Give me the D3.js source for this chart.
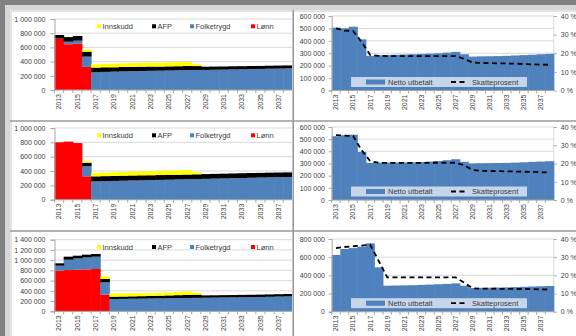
<!DOCTYPE html>
<html>
<head>
<meta charset="utf-8">
<script src="https://cdn.jsdelivr.net/npm/d3@7"></script>
<style>
  body { margin: 0; background: #fff; }
  text { font-family: "Liberation Sans", Arial, sans-serif; fill: #404040; }
</style>
</head>
<body>
<svg id="chart" width="576" height="336"></svg>
<script>
// categories
const years = [2013, 2014, 2015, 2016, 2017, 2018, 2019, 2020, 2021, 2022, 2023, 2024, 2025,
               2026, 2027, 2028, 2029, 2030, 2031, 2032, 2033, 2034, 2035, 2036, 2037, 2038];
const tickYears = [2013, 2015, 2017, 2019, 2021, 2023, 2025, 2027, 2029, 2031, 2033, 2035, 2037];

// income parts, thousand NOK (three scenarios, top to bottom)
const lonn1 = [725, 645, 655, 325, 0, 0, 0, 0, 0, 0, 0, 0, 0, 0, 0, 0, 0, 0, 0, 0, 0, 0, 0, 0, 0, 0];
const folk1 = [0, 35, 40, 145, 250, 255, 258, 262, 265, 268, 270, 272, 275, 277, 280, 282, 283, 285, 287, 290, 292, 295, 297, 300, 302, 305];
const afp1  = [50, 65, 65, 70, 65, 65, 62, 62, 60, 60, 60, 58, 58, 58, 58, 55, 45, 45, 44, 44, 43, 43, 42, 42, 42, 41];
const inn1  = [0, 0, 0, 30, 46, 48, 50, 52, 53, 54, 55, 56, 57, 58, 56, 25, 0, 0, 0, 0, 0, 0, 0, 0, 0, 0];

const lonn2 = [800, 810, 790, 326, 0, 0, 0, 0, 0, 0, 0, 0, 0, 0, 0, 0, 0, 0, 0, 0, 0, 0, 0, 0, 0, 0];
const folk2 = [0, 0, 0, 140, 256, 259, 262, 265, 268, 270, 273, 276, 279, 282, 285, 288, 291, 294, 297, 300, 303, 306, 309, 312, 314, 316];
const afp2  = [0, 0, 0, 50, 70, 70, 70, 70, 70, 70, 68, 68, 68, 66, 66, 66, 66, 66, 66, 66, 66, 66, 65, 65, 65, 65];
const inn2  = [0, 0, 0, 20, 46, 48, 50, 52, 54, 55, 55, 57, 58, 59, 60, 30, 0, 0, 0, 0, 0, 0, 0, 0, 0, 0];

const lonn3 = [794, 807, 814, 820, 827, 326, 0, 0, 0, 0, 0, 0, 0, 0, 0, 0, 0, 0, 0, 0, 0, 0, 0, 0, 0, 0];
const folk3 = [98, 202, 221, 235, 241, 240, 241, 243, 246, 248, 251, 253, 256, 258, 261, 263, 265, 267, 270, 272, 275, 277, 280, 284, 288, 292];
const afp3  = [46, 59, 52, 52, 52, 66, 45, 46, 47, 48, 50, 52, 55, 58, 62, 62, 46, 46, 46, 46, 46, 46, 46, 46, 46, 47];
const inn3  = [0, 0, 0, 0, 0, 52, 66, 60, 58, 55, 52, 55, 58, 62, 65, 40, 0, 0, 0, 0, 0, 0, 0, 0, 0, 0];

// net paid (thousand NOK) and tax rate (%)
const net1 = [506, 501, 514, 412, 279, 284, 286, 288, 290, 292, 295, 297, 300, 305, 311, 292, 273, 275, 276, 277, 279, 282, 285, 288, 292, 295];
const tax1 = [33.4, 32.2, 32.0, 26.0, 19.1, 18.6, 18.5, 18.5, 18.5, 18.5, 18.5, 18.5, 18.5, 18.5, 18.5, 17.0, 15.0, 14.8, 14.7, 14.6, 14.5, 14.4, 14.2, 14.0, 13.9, 13.8];
const net2 = [524, 532, 537, 395, 305, 307, 308, 308, 309, 310, 312, 316, 320, 327, 335, 314, 300, 302, 303, 304, 305, 307, 310, 313, 316, 319];
const tax2 = [35.5, 35.3, 35.1, 27.3, 21.3, 20.4, 20.3, 20.3, 20.3, 20.3, 20.3, 20.4, 20.4, 20.4, 20.4, 19.1, 16.4, 16.0, 15.9, 15.8, 15.7, 15.6, 15.5, 15.4, 15.2, 15.1];
const net3 = [624, 690, 700, 715, 752, 488, 286, 288, 290, 292, 295, 298, 302, 306, 312, 286, 260, 262, 264, 266, 268, 271, 274, 277, 280, 283];
const tax3 = [35.0, 35.6, 36.0, 36.3, 36.9, 28.0, 18.9, 18.9, 18.9, 18.9, 18.9, 18.9, 18.9, 18.9, 18.9, 16.0, 12.8, 12.7, 12.7, 12.6, 12.6, 12.5, 12.5, 12.4, 12.3, 12.2];

const stackKeys = ["Lønn", "Folketrygd", "AFP", "Innskudd"];
const legendLeft = ["Innskudd", "AFP", "Folketrygd", "Lønn"];
const colors = { "Lønn": "#ff0000", "Folketrygd": "#4f81bd", "AFP": "#000000", "Innskudd": "#ffff00" };

const nb = d3.formatLocale({ decimal: ",", thousands: "\u00a0", grouping: [3], currency: ["", ""] }).format(",");

const svg = d3.select("#chart");
const gridColor = "#d9d9d9", axisColor = "#a6a6a6";

// layout of the three rows
const rows = [
  { top: 19, bottom: 90, max: 1000, rTop: 16, rBottom: 90.5, rMax: 600, rStep: 100 },
  { top: 128, bottom: 199.7, max: 1000, rTop: 127, rBottom: 200, rMax: 600, rStep: 100 },
  { top: 239.7, bottom: 311.3, max: 1400, rTop: 239, rBottom: 311.7, rMax: 800, rStep: 200 }
];
const scen = [
  { lonn: lonn1, folk: folk1, afp: afp1, inn: inn1, net: net1, tax: tax1 },
  { lonn: lonn2, folk: folk2, afp: afp2, inn: inn2, net: net2, tax: tax2 },
  { lonn: lonn3, folk: folk3, afp: afp3, inn: inn3, net: net3, tax: tax3 }
];

svg.append("clipPath").attr("id", "leftclip")
  .append("rect").attr("x", 0).attr("y", 0).attr("width", 292).attr("height", 336);

function xAxisLabels(g, x, bottom) {
  const bw = x.bandwidth();
  g.append("line").attr("x1", x.range()[0]).attr("x2", x.range()[1])
    .attr("y1", bottom).attr("y2", bottom).attr("stroke", axisColor);
  g.selectAll(".xt").data(years).join("line")
    .attr("x1", d => x(d)).attr("x2", d => x(d))
    .attr("y1", bottom).attr("y2", bottom + 3).attr("stroke", axisColor);
  g.selectAll(".xl").data(tickYears).join("text")
    .attr("transform", d => `translate(${x(d) + bw / 2 + 2.4},${bottom + 4}) rotate(-90)`)
    .attr("text-anchor", "end").attr("font-size", 7).text(d => d);
}

function styleAxis(a) {
  a.select(".domain").attr("stroke", axisColor);
  a.selectAll(".tick line").attr("stroke", axisColor);
  a.selectAll(".tick text").attr("font-size", 7).attr("fill", "#404040")
    .attr("font-family", "Liberation Sans, Arial, sans-serif");
}

function drawStack(row, d) {
  const g = svg.append("g").attr("clip-path", "url(#leftclip)");
  const x = d3.scaleBand().domain(years).range([54.5, 292.4]);
  const y = d3.scaleLinear().domain([0, row.max]).range([row.bottom, row.top]);
  const bw = x.bandwidth();
  const ticks = d3.range(0, row.max + 1, 200);

  g.selectAll(".grid").data(ticks).join("line")
    .attr("x1", 54.5).attr("x2", 292.4)
    .attr("y1", v => y(v)).attr("y2", v => y(v)).attr("stroke", gridColor);

  const table = years.map((yr, i) => ({
    year: yr, "Lønn": d.lonn[i], "Folketrygd": d.folk[i], "AFP": d.afp[i], "Innskudd": d.inn[i]
  }));
  const series = d3.stack().keys(stackKeys)(table);
  g.selectAll(".s").data(series).join("g").attr("fill", s => colors[s.key])
    .selectAll("rect").data(s => s).join("rect")
    .attr("x", p => x(p.data.year)).attr("width", bw + 0.5)
    .attr("y", p => y(p[1])).attr("height", p => Math.max(0, y(p[0]) - y(p[1])));

  const ya = svg.append("g").attr("transform", "translate(54.5,0)")
    .call(d3.axisLeft(y).tickValues(ticks).tickFormat(v => nb(v * 1000)).tickSize(4).tickPadding(5));
  styleAxis(ya);
  xAxisLabels(g, x, row.bottom);

  // legend
  const lg = svg.append("g");
  const lx = [97, 152, 190, 251];
  const ly = row.top + 7.5;
  legendLeft.forEach((k, i) => {
    lg.append("rect").attr("x", lx[i]).attr("y", ly - 2.2).attr("width", 4).attr("height", 4).attr("fill", colors[k]);
    lg.append("text").attr("x", lx[i] + 5.5).attr("y", ly + 2.5).attr("font-size", 7.5).text(k);
  });
}

function drawNet(row, d) {
  const g = svg.append("g");
  const x0 = 331.7, x1 = 553.8;
  const x = d3.scaleBand().domain(years).range([x0, x1]);
  const y = d3.scaleLinear().domain([0, row.rMax]).range([row.rBottom, row.rTop]);
  const yp = d3.scaleLinear().domain([0, 40]).range([row.rBottom, row.rTop]);
  const bw = x.bandwidth();
  const ticks = d3.range(0, row.rMax + 1, row.rStep);

  g.selectAll(".grid").data(ticks).join("line")
    .attr("x1", x0).attr("x2", x1)
    .attr("y1", v => y(v)).attr("y2", v => y(v)).attr("stroke", gridColor);
  g.append("line").attr("x1", x1).attr("x2", x1).attr("y1", row.rTop).attr("y2", row.rBottom).attr("stroke", gridColor);

  g.selectAll(".net").data(d.net).join("rect")
    .attr("x", (v, i) => x(years[i])).attr("width", bw + 0.5)
    .attr("y", v => y(v)).attr("height", v => row.rBottom - y(v))
    .attr("fill", "#4f81bd");

  g.append("path").datum(d.tax)
    .attr("d", d3.line().x((v, i) => x(years[i]) + bw / 2).y(v => yp(v)))
    .attr("fill", "none").attr("stroke", "#000").attr("stroke-width", 1.8)
    .attr("stroke-dasharray", "5,3.5");

  const ya = svg.append("g").attr("transform", `translate(${x0},0)`)
    .call(d3.axisLeft(y).tickValues(ticks).tickFormat(v => nb(v * 1000)).tickSize(3).tickPadding(3.7));
  styleAxis(ya);
  const yr = svg.append("g").attr("transform", `translate(${x1},0)`)
    .call(d3.axisRight(yp).tickValues([0, 10, 20, 30, 40]).tickFormat(v => v + " %").tickSize(3).tickPadding(4));
  styleAxis(yr);
  yr.select(".domain").attr("stroke", "none");
  xAxisLabels(g, x, row.rBottom);

  // legend box
  const by = row.rBottom - 13.5;
  const lg = svg.append("g");
  lg.append("rect").attr("x", 351).attr("y", by).attr("width", 176).attr("height", 10).attr("fill", "#c6d5ea");
  lg.append("rect").attr("x", 366).attr("y", by + 2.5).attr("width", 19).attr("height", 5).attr("fill", "#4f81bd");
  lg.append("text").attr("x", 388).attr("y", by + 7.6).attr("font-size", 7.5).text("Netto utbetalt");
  lg.append("line").attr("x1", 451).attr("x2", 468).attr("y1", by + 5).attr("y2", by + 5)
    .attr("stroke", "#000").attr("stroke-width", 1.8).attr("stroke-dasharray", "5,3.5");
  lg.append("text").attr("x", 472).attr("y", by + 7.6).attr("font-size", 7.5).text("Skatteprosent");
}

rows.forEach((r, i) => {
  drawStack(r, scen[i]);
  drawNet(r, scen[i]);
});

// frame around the panels
svg.append("rect").attr("x", 5).attr("y", 5).attr("width", 571).attr("height", 5).attr("fill", "#d6d6d6");
svg.append("rect").attr("x", 5).attr("y", 5).attr("width", 5).attr("height", 331).attr("fill", "#d6d6d6");
svg.append("rect").attr("x", 0).attr("y", 0).attr("width", 576).attr("height", 5).attr("fill", "#808080");
svg.append("rect").attr("x", 0).attr("y", 0).attr("width", 5).attr("height", 336).attr("fill", "#808080");
svg.append("line").attr("x1", 11).attr("x2", 11).attr("y1", 11).attr("y2", 336).attr("stroke", "#c8c8c8");
svg.append("line").attr("x1", 11).attr("x2", 576).attr("y1", 11).attr("y2", 11).attr("stroke", "#c8c8c8");
svg.append("line").attr("x1", 293.2).attr("x2", 293.2).attr("y1", 10).attr("y2", 336).attr("stroke", "#9a9a9a").attr("stroke-width", 1.6);
[121, 231].forEach(yy => {
  svg.append("line").attr("x1", 10).attr("x2", 576).attr("y1", yy).attr("y2", yy)
    .attr("stroke", "#9a9a9a").attr("stroke-width", 1.4);
});
</script>
</body>
</html>
